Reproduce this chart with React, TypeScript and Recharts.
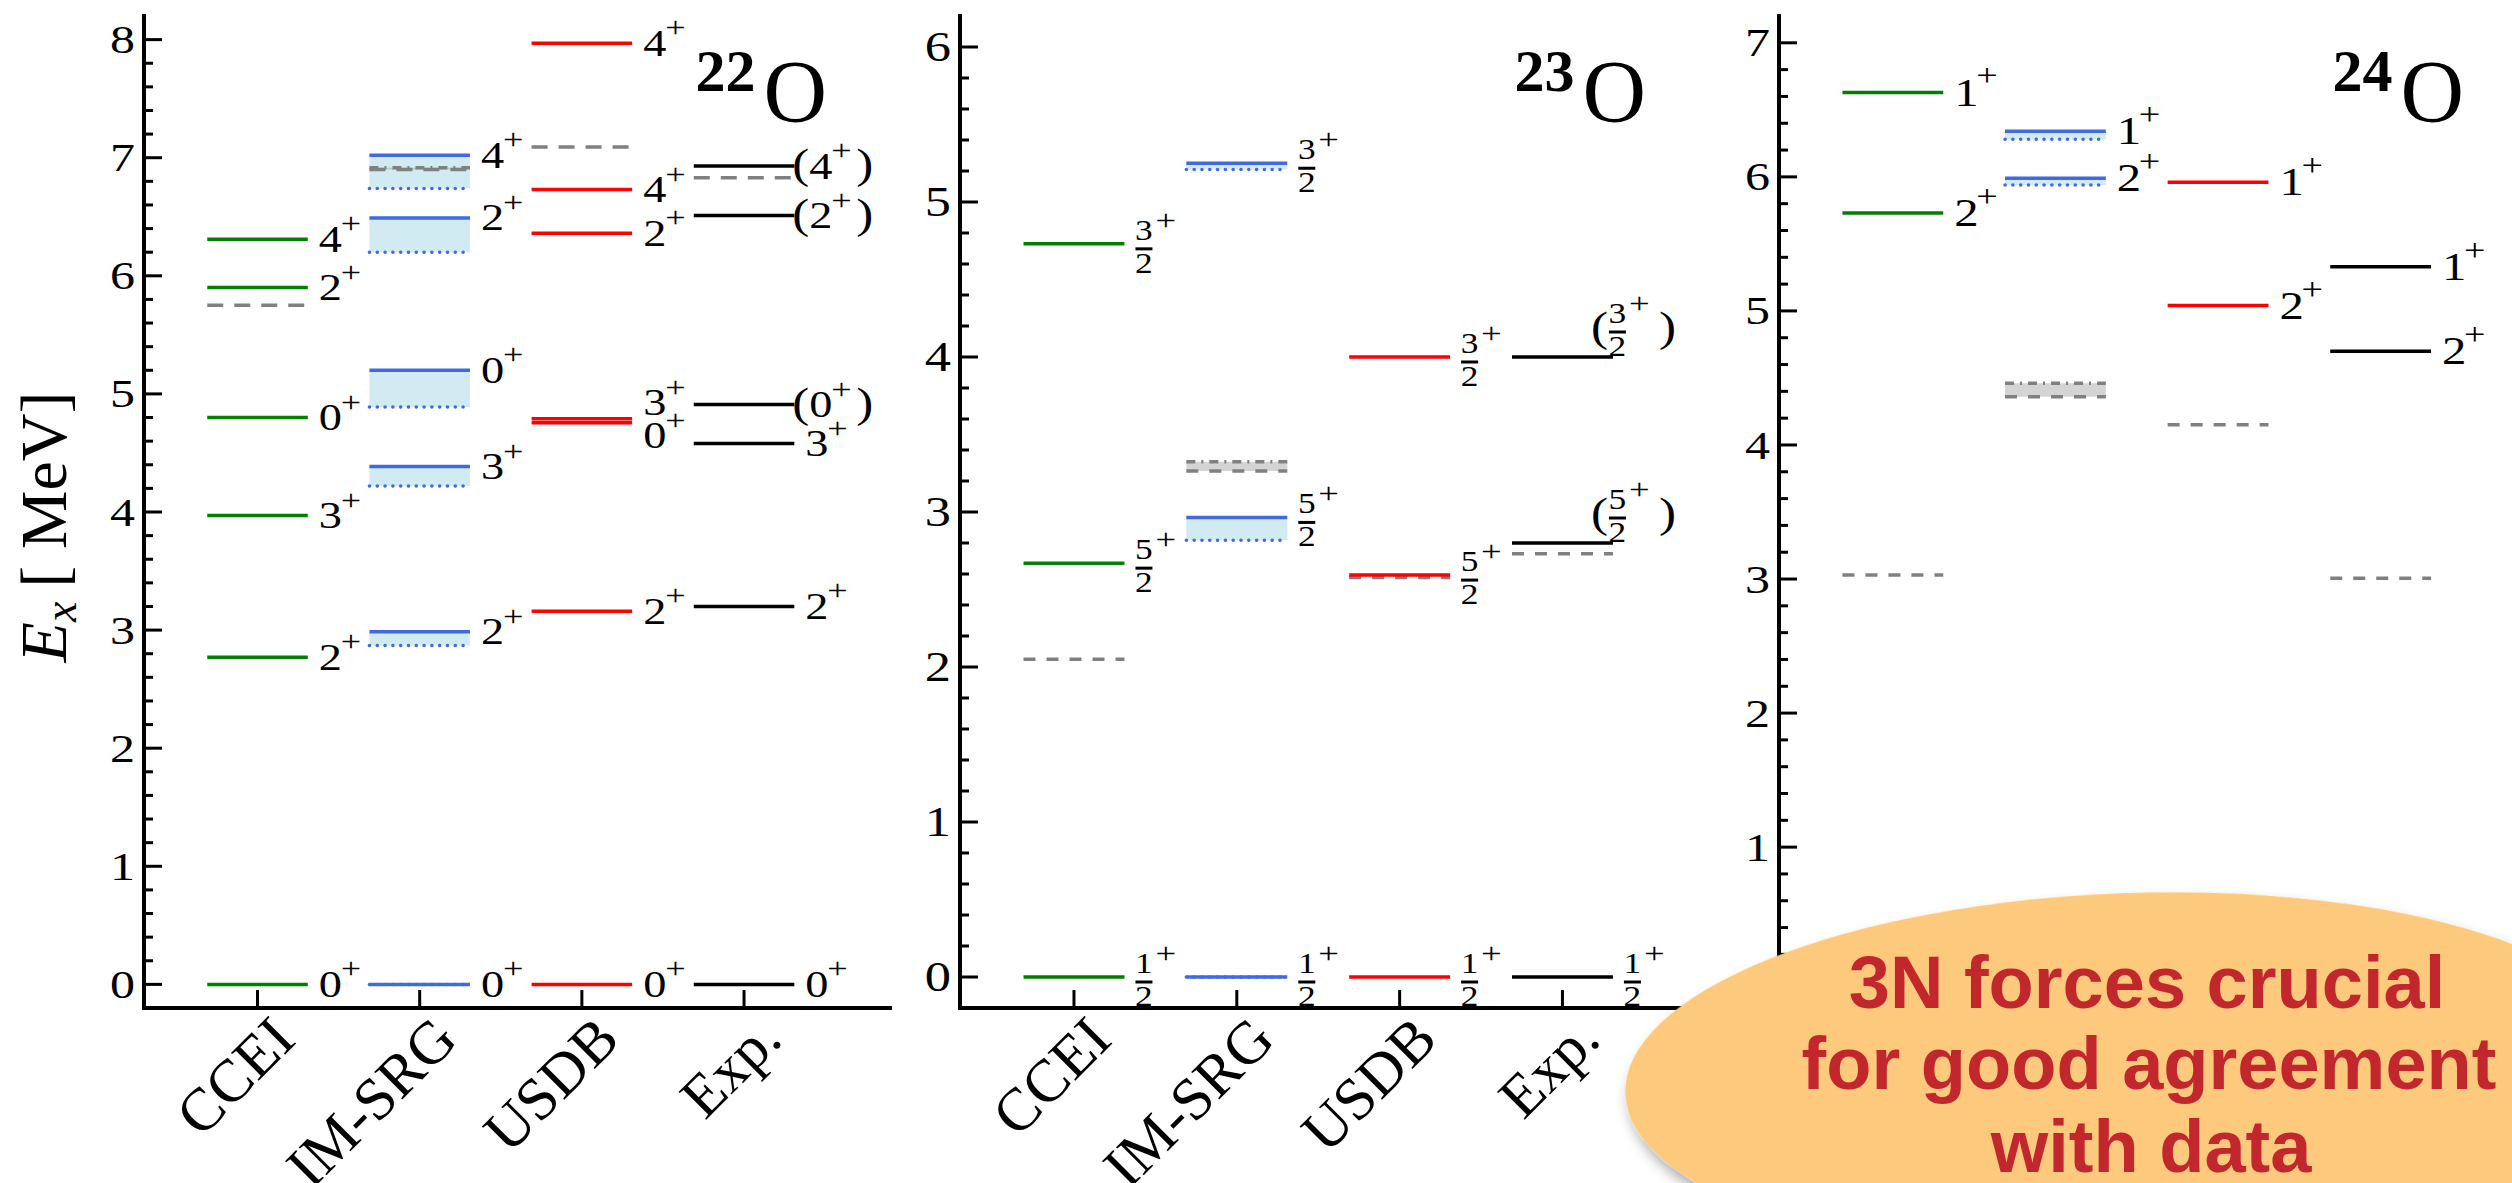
import React from "react";
import { ComposedChart, XAxis, YAxis, ReferenceLine, ReferenceArea } from "recharts";

const SERIF = "'Liberation Serif', 'Times New Roman', serif";
const SANS = "'Liberation Sans', Arial, sans-serif";

const METHODS = ["CCEI", "IM-SRG", "USDB", "Exp."];
const COLORS = ["#008000", "#4169e1", "#ff0000", "#000000"];
const GRAY = "#808080";
const COLS = [{ x: 0 }, { x: 1 }, { x: 2 }, { x: 3 }];
const SX = 1.22; // the labels in the source figure are drawn a little wide

type Level = { e: number; j: string; lo?: number; t?: boolean };
type Dashed = { m: number; e: number };
type Band = { m: number; hi: number; lo: number };

// 22O  (e = level energy in MeV, lo = lower edge of IM-SRG band, t = tentative assignment)
const o22Ccei: Level[] = [
  { e: 0, j: "0" }, { e: 2.77, j: "2" }, { e: 3.97, j: "3" },
  { e: 4.8, j: "0" }, { e: 5.9, j: "2" }, { e: 6.31, j: "4" },
];
const o22Imsrg: Level[] = [
  { e: 0, lo: 0, j: "0" }, { e: 2.985, lo: 2.87, j: "2" }, { e: 4.385, lo: 4.22, j: "3" },
  { e: 5.2, lo: 4.89, j: "0" }, { e: 6.49, lo: 6.2, j: "2" }, { e: 7.02, lo: 6.74, j: "4" },
];
const o22Usdb: Level[] = [
  { e: 0, j: "0" }, { e: 3.16, j: "2" }, { e: 4.755, j: "0" }, { e: 4.79, j: "3" },
  { e: 6.36, j: "2" }, { e: 6.73, j: "4" }, { e: 7.97, j: "4" },
];
const o22Exp: Level[] = [
  { e: 0, j: "0" }, { e: 3.2, j: "2" }, { e: 4.58, j: "3" },
  { e: 4.91, j: "0", t: true }, { e: 6.51, j: "2", t: true }, { e: 6.93, j: "4", t: true },
];
const o22Dashed: Dashed[] = [{ m: 0, e: 5.75 }, { m: 2, e: 7.09 }, { m: 3, e: 6.83 }];
const o22GrayBand: Band[] = [{ m: 1, hi: 6.915, lo: 6.9 }];
const o22Ticks = [0, 1, 2, 3, 4, 5, 6, 7, 8];

// 23O
const o23Ccei: Level[] = [{ e: 0, j: "1/2" }, { e: 2.67, j: "5/2" }, { e: 4.73, j: "3/2" }];
const o23Imsrg: Level[] = [
  { e: 0, lo: 0, j: "1/2" }, { e: 2.965, lo: 2.817, j: "5/2" }, { e: 5.25, lo: 5.21, j: "3/2" },
];
const o23Usdb: Level[] = [{ e: 0, j: "1/2" }, { e: 2.593, j: "5/2" }, { e: 4.0, j: "3/2" }];
const o23Exp: Level[] = [{ e: 0, j: "1/2" }, { e: 2.8, j: "5/2", t: true }, { e: 4.0, j: "3/2", t: true }];
const o23Dashed: Dashed[] = [{ m: 0, e: 2.05 }, { m: 2, e: 2.578 }, { m: 3, e: 2.73 }];
const o23GrayBand: Band[] = [{ m: 1, hi: 3.325, lo: 3.265 }];
const o23Ticks = [0, 1, 2, 3, 4, 5, 6];

// 24O (ground states are hidden under the call-out in the reference)
const o24Ccei: Level[] = [{ e: 5.73, j: "2" }, { e: 6.63, j: "1" }];
const o24Imsrg: Level[] = [{ e: 5.99, lo: 5.94, j: "2" }, { e: 6.34, lo: 6.28, j: "1" }];
const o24Usdb: Level[] = [{ e: 5.04, j: "2" }, { e: 5.96, j: "1" }];
const o24Exp: Level[] = [{ e: 4.7, j: "2" }, { e: 5.33, j: "1" }];
const o24Dashed: Dashed[] = [{ m: 0, e: 3.03 }, { m: 2, e: 4.15 }, { m: 3, e: 3.005 }];
const o24GrayBand: Band[] = [{ m: 1, hi: 4.46, lo: 4.36 }];
const o24Ticks = [0, 1, 2, 3, 4, 5, 6, 7];

const HW = 0.31; // half width of a level bar, in column units

// spin/parity label to the right of a level bar; one text element, stretched sideways
function LevelLabel(props: any) {
  const { viewBox, j, t, nudge, fs } = props;
  if (!viewBox) return null;
  const xe = viewBox.x + viewBox.width;
  const y = viewBox.y + nudge;
  const u = (px: number) => px / SX;
  if (j.includes("/")) {
    const [num, den] = j.split("/");
    const dy = t ? -30 : 0;
    const x0 = t ? xe - 4 : xe + 11;
    const dx = u(8.5) - 7.25;
    return (
      <g>
        <rect x={x0} y={y + dy + 3.5} width={17} height={3} fill="#000" />
        <text transform={`translate(${x0},${y + dy}) scale(${SX},1)`} fontFamily={SERIF} fill="#000">
          {t && <tspan x={u(-18)} y={-16 - dy} fontSize={42}>(</tspan>}
          <tspan x={dx} y={-4} fontSize={29}>{num}</tspan>
          <tspan x={u(20)} y={-14} fontSize={30}>+</tspan>
          <tspan x={dx} y={29} fontSize={29}>{den}</tspan>
          {t && <tspan x={u(50)} y={-16 - dy} fontSize={42}>)</tspan>}
        </text>
      </g>
    );
  }
  const d = t ? 15 : 11;
  return (
    <text transform={`translate(${xe},${y}) scale(${SX},1)`} fontFamily={SERIF} fill="#000">
      {t && <tspan x={u(-2)} y={12} fontSize={fs * 1.1}>(</tspan>}
      <tspan x={u(d)} y={fs * 0.33} fontSize={fs}>{j}</tspan>
      <tspan x={u(d + 22)} y={-6} fontSize={fs * 0.78}>+</tspan>
      {t && <tspan x={u(d + 47)} y={12} fontSize={fs * 1.1}>)</tspan>}
    </text>
  );
}

// left-axis label: the E_x title (first panel) and the nucleus name in the top-right corner
function AxisLabel(props: any) {
  const { viewBox, a, plotWidth, title } = props;
  if (!viewBox) return null;
  const cy = viewBox.y + viewBox.height / 2 + 15;
  const right = viewBox.x + viewBox.width + plotWidth;
  return (
    <g>
      {title && (
        <text transform={`translate(66,${cy}) rotate(-90)`} textAnchor="middle" fontFamily={SERIF} fontSize={66} fill="#000">
          <tspan fontStyle="italic">E</tspan>
          <tspan fontStyle="italic" fontSize={46} dy={10}>x</tspan>
          <tspan dx={14} dy={-10}>[ MeV]</tspan>
        </text>
      )}
      <text x={right - 63} y={viewBox.y + 105} textAnchor="end" fontFamily={SERIF} fill="#000">
        <tspan fontWeight="bold" fontSize={60} dy={-30}>{a}</tspan>
        <tspan fontSize={88} dx={8} dy={30}>O</tspan>
      </text>
    </g>
  );
}

function Panel(p: {
  left: number; width: number; yw: number; mr: number; top: number;
  columns: Level[][]; dashed: Dashed[]; bands: Band[]; ticks: number[];
  a: string; fs: number; tfs: number; dash: string; title?: boolean;
}) {
  const last = p.ticks[p.ticks.length - 1];
  const minor: number[] = [];
  p.ticks.forEach((t) => {
    for (let k = 0; k < 5; k++) {
      const v = Math.round((t + k * 0.2) * 10) / 10;
      if (v <= last) minor.push(v);
    }
  });
  const domain: [number, number] = [-0.2, last + 0.2];
  const frame = { stroke: "#000", strokeWidth: 4, strokeLinecap: "square" as const };
  const ids = { xAxisId: "b", yAxisId: "l" };
  const els: React.ReactNode[] = [];

  p.columns.forEach((col, m) =>
    col.forEach((lv, i) => {
      if (lv.lo !== undefined && lv.e - lv.lo > 0.001)
        els.push(
          <ReferenceArea key={`ba${m}-${i}`} {...ids} x1={m - HW} x2={m + HW} y1={lv.lo} y2={lv.e}
            fill="#add8e6" fillOpacity={0.55} stroke="none" ifOverflow="visible" />
        );
    })
  );
  p.bands.forEach((b, i) => {
    els.push(
      <ReferenceArea key={`ga${i}`} {...ids} x1={b.m - HW} x2={b.m + HW} y1={b.lo} y2={b.hi}
        fill="#a9a9a9" fillOpacity={0.5} stroke="none" ifOverflow="visible" />
    );
    els.push(
      <ReferenceLine key={`gt${i}`} {...ids} segment={[{ x: b.m - HW, y: b.hi }, { x: b.m + HW, y: b.hi }]}
        stroke={GRAY} strokeWidth={3.5} strokeDasharray="9 6 2 6" ifOverflow="visible" />
    );
    els.push(
      <ReferenceLine key={`gb${i}`} {...ids} segment={[{ x: b.m - HW, y: b.lo }, { x: b.m + HW, y: b.lo }]}
        stroke={GRAY} strokeWidth={3.5} strokeDasharray={p.dash} ifOverflow="visible" />
    );
  });
  p.dashed.forEach((d, i) =>
    els.push(
      <ReferenceLine key={`d${i}`} {...ids} segment={[{ x: d.m - HW, y: d.e }, { x: d.m + HW, y: d.e }]}
        stroke={GRAY} strokeWidth={3.5} strokeDasharray={p.dash} ifOverflow="visible" />
    )
  );
  p.columns.forEach((col, m) =>
    col.forEach((lv, i) => {
      let nudge = 0;
      col.forEach((o, k) => {
        if (k !== i && Math.abs(o.e - lv.e) < 0.1) nudge += lv.e > o.e ? -16 : 13;
      });
      if (lv.lo !== undefined)
        els.push(
          <ReferenceLine key={`lo${m}-${i}`} {...ids} segment={[{ x: m - HW, y: lv.lo }, { x: m + HW, y: lv.lo }]}
            stroke={COLORS[m]} strokeWidth={3.5} strokeDasharray="0.1 7.7" strokeLinecap="round" ifOverflow="visible" />
        );
      els.push(
        <ReferenceLine key={`l${m}-${i}`} {...ids} segment={[{ x: m - HW, y: lv.e }, { x: m + HW, y: lv.e }]}
          stroke={COLORS[m]} strokeWidth={3.5} ifOverflow="visible"
          label={<LevelLabel j={lv.j} t={lv.t} nudge={nudge} fs={p.fs} />} />
      );
    })
  );

  const leftTick = (t: any) => {
    const v = t.payload.value;
    const major = Math.abs(v - Math.round(v)) < 1e-6;
    return (
      <g>
        <line x1={t.x} x2={t.x + (major ? 18 : 9)} y1={t.y} y2={t.y} stroke="#000" strokeWidth={3} />
        {major && (
          <text transform={`translate(${t.x - 9},${t.y + p.tfs * 0.33}) scale(${SX},1)`} textAnchor="end"
            fontFamily={SERIF} fontSize={p.tfs} fill="#000">
            {Math.round(v)}
          </text>
        )}
      </g>
    );
  };
  const rightTick = (t: any) => {
    const v = t.payload.value;
    const major = Math.abs(v - Math.round(v)) < 1e-6;
    return <line x1={t.x - (major ? 18 : 9)} x2={t.x} y1={t.y} y2={t.y} stroke="#000" strokeWidth={3} />;
  };
  const topTick = (t: any) => <line x1={t.x} x2={t.x} y1={t.y} y2={t.y + 18} stroke="#000" strokeWidth={3} />;
  const bottomTick = (t: any) => (
    <g>
      <line x1={t.x} x2={t.x} y1={t.y - 18} y2={t.y} stroke="#000" strokeWidth={3} />
      <text transform={`translate(${t.x + 40},${t.y + 34}) rotate(-45)`} textAnchor="end"
        fontFamily={SERIF} fontSize={60} fill="#000">
        {METHODS[t.payload.value]}
      </text>
    </g>
  );

  return (
    <div style={{ position: "absolute", left: p.left, top: 0 }}>
      <ComposedChart width={p.width} height={1183} data={COLS}
        margin={{ top: p.top, right: p.mr, bottom: 0, left: 0 }}>
        <XAxis xAxisId="b" dataKey="x" type="number" domain={[-0.7, 3.9]} allowDataOverflow
          ticks={[0, 1, 2, 3]} interval={0} height={175} tickSize={0} tickMargin={0}
          tickLine={false} axisLine={frame} tick={bottomTick} />
        <XAxis xAxisId="t" orientation="top" dataKey="x" type="number" domain={[-0.7, 3.9]} allowDataOverflow
          ticks={[0, 1, 2, 3]} interval={0} height={0} tickSize={0} tickMargin={0}
          tickLine={false} axisLine={frame} tick={topTick} />
        <YAxis yAxisId="l" type="number" domain={domain} allowDataOverflow ticks={minor} interval={0}
          width={p.yw} tickSize={0} tickMargin={0} tickLine={false} axisLine={frame} tick={leftTick}
          label={<AxisLabel a={p.a} title={p.title} plotWidth={p.width - p.yw - p.mr} />} />
        <YAxis yAxisId="r" orientation="right" type="number" domain={domain} allowDataOverflow ticks={minor}
          interval={0} width={0} tickSize={0} tickMargin={0} tickLine={false} axisLine={frame} tick={rightTick} />
        {els}
      </ComposedChart>
    </div>
  );
}

export default function App() {
  return (
    <div style={{ position: "fixed", left: 0, top: 0, width: 2512, height: 1183, overflow: "hidden", background: "#fff" }}>
      <Panel left={0} width={900} yw={144} mr={10} top={16} a="22" fs={38} tfs={41} dash="16 11" title
        columns={[o22Ccei, o22Imsrg, o22Usdb, o22Exp]} dashed={o22Dashed} bands={o22GrayBand} ticks={o22Ticks} />
      <Panel left={900} width={820} yw={60} mr={11} top={16} a="23" fs={38} tfs={43} dash="12 11"
        columns={[o23Ccei, o23Imsrg, o23Usdb, o23Exp]} dashed={o23Dashed} bands={o23GrayBand} ticks={o23Ticks} />
      <Panel left={1720} width={820} yw={59} mr={13} top={16} a="24" fs={40} tfs={41} dash="12 11"
        columns={[o24Ccei, o24Imsrg, o24Usdb, o24Exp]} dashed={o24Dashed} bands={o24GrayBand} ticks={o24Ticks} />
      <svg width={2512} height={1183} style={{ position: "absolute", left: 0, top: 0, pointerEvents: "none" }}>
        <defs>
          <filter id="shadow" x="-10%" y="-20%" width="125%" height="150%">
            <feDropShadow dx="4" dy="9" stdDeviation="7" floodColor="#000" floodOpacity="0.35" />
          </filter>
        </defs>
        <ellipse cx={2131} cy={1076} rx={506} ry={183} transform="rotate(-2 2131 1076)"
          fill="#fdc97c" filter="url(#shadow)" />
        <g fontFamily={SANS} fontWeight="bold" fontSize={74} fill="#c1272d" textAnchor="middle">
          <text x={2147} y={1008}>3N forces crucial</text>
          <text x={2149} y={1089}>for good agreement</text>
          <text x={2151} y={1172}>with data</text>
        </g>
      </svg>
    </div>
  );
}
